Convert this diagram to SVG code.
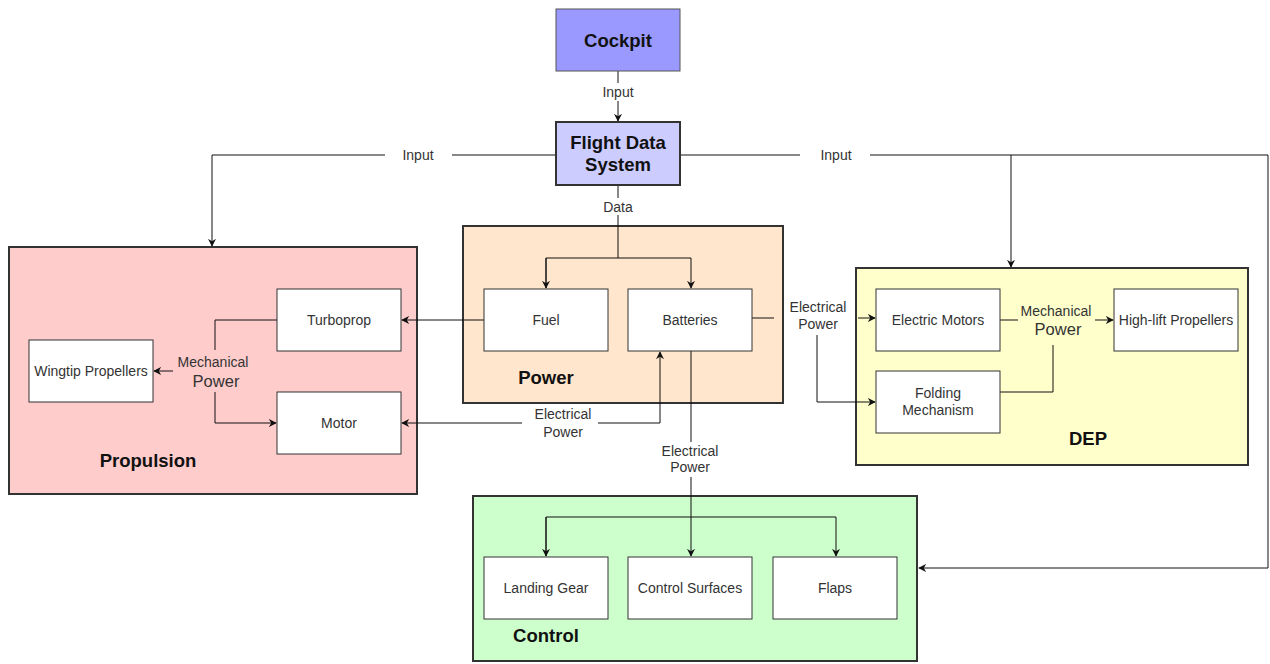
<svg xmlns="http://www.w3.org/2000/svg" width="1270" height="664" viewBox="0 0 1270 664">
  <style>
    .grp { stroke: #333; stroke-width: 2; }
    .box { fill: #fff; stroke: #333; stroke-width: 1; }
    .lbl { font-family: "Liberation Sans", Arial, sans-serif; font-size: 14px; fill: #333; text-anchor: middle; }
    .big { font-size: 16.5px; }
    .title { font-family: "Liberation Sans", Arial, sans-serif; font-size: 18.5px; font-weight: bold; fill: #111; text-anchor: middle; }
    .wire { fill: none; stroke: #111; stroke-width: 1; }
  </style>
  <defs>
    <marker id="arrow" viewBox="0 0 10 10" refX="9" refY="5" markerWidth="8" markerHeight="8" orient="auto" markerUnits="userSpaceOnUse">
      <path d="M0,0 L10,5 L0,10 L3,5 Z" fill="#111"/>
    </marker>
  </defs>
  <rect width="1270" height="664" fill="#fff"/>

  <!-- group containers -->
  <g id="propulsion">
    <rect class="grp" x="9" y="247" width="408" height="247" fill="#ffcccc"/>
    <text class="title" x="148" y="467">Propulsion</text>
  </g>
  <g id="power">
    <rect class="grp" x="463" y="226" width="320" height="177" fill="#ffe6cc"/>
    <text class="title" x="546" y="384">Power</text>
  </g>
  <g id="dep">
    <rect class="grp" x="856" y="268" width="392" height="197" fill="#ffffcc"/>
    <text class="title" x="1088" y="445">DEP</text>
  </g>
  <g id="control">
    <rect class="grp" x="473" y="496" width="444" height="165" fill="#ccffcc"/>
    <text class="title" x="546" y="642">Control</text>
  </g>

  <!-- connectors -->
  <g id="connectors">
    <!-- cockpit to flight data system -->
    <line class="wire" x1="618" y1="71" x2="618" y2="83"/>
    <line class="wire" x1="618" y1="101" x2="618" y2="121" marker-end="url(#arrow)"/>
    <text class="lbl" x="618" y="97">Input</text>
    <!-- input to propulsion -->
    <polyline class="wire" points="385,155 212,155 212,246" marker-end="url(#arrow)"/>
    <line class="wire" x1="452" y1="155" x2="556" y2="155"/>
    <text class="lbl" x="418" y="160">Input</text>
    <!-- input to DEP and control -->
    <line class="wire" x1="680" y1="155" x2="800" y2="155"/>
    <polyline class="wire" points="870,155 1268,155 1268,568 919,568" marker-end="url(#arrow)"/>
    <line class="wire" x1="1011" y1="155" x2="1011" y2="267" marker-end="url(#arrow)"/>
    <text class="lbl" x="836" y="160">Input</text>
    <!-- data to fuel and batteries -->
    <line class="wire" x1="618" y1="185" x2="618" y2="198"/>
    <line class="wire" x1="618" y1="215" x2="618" y2="258"/>
    <text class="lbl" x="618" y="212">Data</text>
    <polyline class="wire" points="546,288 546,258 691,258 691,288" marker-end="url(#arrow)"/>
    <line class="wire" x1="546" y1="258" x2="546" y2="288" marker-end="url(#arrow)"/>
    <!-- fuel to turboprop -->
    <line class="wire" x1="484" y1="320" x2="402" y2="320" marker-end="url(#arrow)"/>
    <!-- mechanical power in propulsion -->
    <polyline class="wire" points="277,320 215,320 215,350"/>
    <polyline class="wire" points="215,392 215,423 276,423" marker-end="url(#arrow)"/>
    <line class="wire" x1="173" y1="371" x2="154" y2="371" marker-end="url(#arrow)"/>
    <text class="lbl" x="213" y="367">Mechanical</text>
    <text class="lbl big" x="216" y="387">Power</text>
    <!-- batteries to motor -->
    <line class="wire" x1="522" y1="423" x2="402" y2="423" marker-end="url(#arrow)"/>
    <polyline class="wire" points="598,423 660,423 660,352" marker-end="url(#arrow)"/>
    <text class="lbl" x="563" y="419">Electrical</text>
    <text class="lbl" x="563" y="437">Power</text>
    <!-- batteries to control -->
    <line class="wire" x1="691" y1="351" x2="691" y2="442"/>
    <text class="lbl" x="690" y="456">Electrical</text>
    <text class="lbl" x="690" y="472">Power</text>
    <line class="wire" x1="691" y1="477" x2="691" y2="556" marker-end="url(#arrow)"/>
    <polyline class="wire" points="546,556 546,517 836,517 836,556" marker-end="url(#arrow)"/>
    <line class="wire" x1="546" y1="517" x2="546" y2="556" marker-end="url(#arrow)"/>
    <!-- batteries to DEP -->
    <line class="wire" x1="752" y1="318" x2="774" y2="318"/>
    <line class="wire" x1="858" y1="318" x2="875" y2="318" marker-end="url(#arrow)"/>
    <polyline class="wire" points="817,335 817,402 875,402" marker-end="url(#arrow)"/>
    <text class="lbl" x="818" y="312">Electrical</text>
    <text class="lbl" x="818" y="329">Power</text>
    <!-- mechanical power in DEP -->
    <line class="wire" x1="1000" y1="320" x2="1018" y2="320"/>
    <line class="wire" x1="1095" y1="320" x2="1113" y2="320" marker-end="url(#arrow)"/>
    <polyline class="wire" points="1053,345 1053,392 1000,392"/>
    <text class="lbl" x="1056" y="316">Mechanical</text>
    <text class="lbl big" x="1058" y="335">Power</text>
  </g>

  <!-- nodes -->
  <g id="cockpit">
    <rect x="556" y="9" width="124" height="62" fill="#9999ff" stroke="#555" stroke-width="1"/>
    <text class="title" x="618" y="47">Cockpit</text>
  </g>
  <g id="flight-data-system">
    <rect x="556" y="122" width="124" height="63" fill="#ccccff" stroke="#333" stroke-width="2"/>
    <text class="title" x="618" y="149">Flight Data</text>
    <text class="title" x="618" y="171">System</text>
  </g>
  <g id="turboprop">
    <rect class="box" x="277" y="289" width="124" height="62"/>
    <text class="lbl" x="339" y="325">Turboprop</text>
  </g>
  <g id="motor">
    <rect class="box" x="277" y="392" width="124" height="62"/>
    <text class="lbl" x="339" y="428">Motor</text>
  </g>
  <g id="wingtip-propellers">
    <rect class="box" x="29" y="340" width="124" height="62"/>
    <text class="lbl" x="91" y="376">Wingtip Propellers</text>
  </g>
  <g id="fuel">
    <rect class="box" x="484" y="289" width="124" height="62"/>
    <text class="lbl" x="546" y="325">Fuel</text>
  </g>
  <g id="batteries">
    <rect class="box" x="628" y="289" width="124" height="62"/>
    <text class="lbl" x="690" y="325">Batteries</text>
  </g>
  <g id="electric-motors">
    <rect class="box" x="876" y="289" width="124" height="62"/>
    <text class="lbl" x="938" y="325">Electric Motors</text>
  </g>
  <g id="high-lift-propellers">
    <rect class="box" x="1114" y="289" width="124" height="62"/>
    <text class="lbl" x="1176" y="325">High-lift Propellers</text>
  </g>
  <g id="folding-mechanism">
    <rect class="box" x="876" y="371" width="124" height="62"/>
    <text class="lbl" x="938" y="398">Folding</text>
    <text class="lbl" x="938" y="415">Mechanism</text>
  </g>
  <g id="landing-gear">
    <rect class="box" x="484" y="557" width="124" height="62"/>
    <text class="lbl" x="546" y="593">Landing Gear</text>
  </g>
  <g id="control-surfaces">
    <rect class="box" x="628" y="557" width="124" height="62"/>
    <text class="lbl" x="690" y="593">Control Surfaces</text>
  </g>
  <g id="flaps">
    <rect class="box" x="773" y="557" width="124" height="62"/>
    <text class="lbl" x="835" y="593">Flaps</text>
  </g>
</svg>
